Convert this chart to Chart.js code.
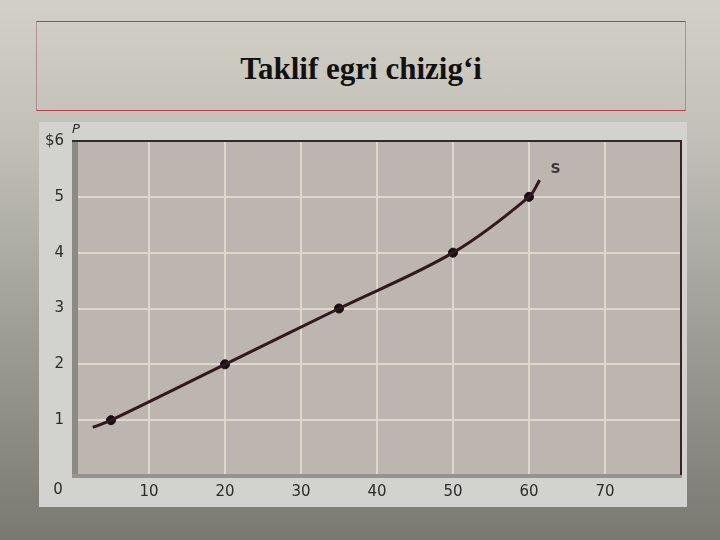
<!DOCTYPE html>
<html>
<head>
<meta charset="utf-8">
<script src="https://cdn.jsdelivr.net/npm/chart.js@4"></script>
<style>
  html, body { margin:0; padding:0; }
  body { width:720px; height:540px; overflow:hidden; position:relative;
    background: linear-gradient(to bottom, #d3d1c7 0%, #c3c1b7 25%, #a09f95 60%, #7a7970 100%); }
  #titlebox { position:absolute; left:36px; top:21px; width:648px; height:88px;
    border-top:1px solid #b8404e; border-bottom:1px solid #b8404e;
    border-left:1px solid rgba(140,90,90,0.5); border-right:1px solid rgba(140,90,90,0.5);
    display:flex; align-items:center; justify-content:center; }
  #titlebox span { font-family:"Liberation Serif", "Times New Roman", serif; font-weight:bold;
    font-size:31px; color:#111; margin-top:6px; }
  #panel { position:absolute; left:39px; top:122px; width:648px; height:385px; background:#d2d2ce; }
  #c { position:absolute; left:0; top:0; }
</style>
</head>
<body>
<div id="titlebox"><span>Taklif egri chizig‘i</span></div>
<div id="panel"></div>
<canvas id="c" width="720" height="540"></canvas>
<script>
// Data
const quantity = [5, 20, 35, 50, 60];          // Q at marked points
const price    = [1, 2, 3, 4, 5];              // P at marked points
const curveStart = {x: 2.6, y: 0.87};          // curve begins before first dot
const curveEnd   = {x: 61.4, y: 5.3};          // curve ends after last dot
const xTicks = [10, 20, 30, 40, 50, 60, 70];
const yTickLabels = {1:'1', 2:'2', 3:'3', 4:'4', 5:'5', 6:'$6'};
const xAxisMin = 0, xAxisMax = 80, yAxisMin = 0, yAxisMax = 6;

const points = quantity.map((q, i) => ({x: q, y: price[i]}));
const curve = [curveStart, ...points, curveEnd];

const tickFont = {family: '"DejaVu Sans", Verdana, sans-serif', size: 15};

const decor = {
  id: 'decor',
  beforeDraw(chart) {
    const {ctx, chartArea: a} = chart;
    ctx.save();
    ctx.fillStyle = '#bdb6b0';
    ctx.fillRect(a.left, a.top, a.right - a.left, a.bottom - a.top);
    ctx.restore();
  },
  afterDraw(chart) {
    const {ctx, chartArea: a, scales} = chart;
    const xs = scales.x, ys = scales.y;
    ctx.save();
    ctx.fillStyle = '#8b8a84';
    ctx.fillRect(a.left - 1, a.top, 6, a.bottom - a.top + 2);
    ctx.fillStyle = '#94938d';
    ctx.fillRect(a.left - 1, a.bottom - 2, a.right - a.left + 2, 4);
    ctx.fillStyle = '#2b2b2b';
    ctx.fillRect(a.left - 1, a.top - 1, a.right - a.left + 2, 2);
    ctx.fillStyle = '#3a2224';
    ctx.fillRect(a.right - 1, a.top - 1, 2, a.bottom - a.top);
    ctx.fillStyle = '#2b2b2b';
    ctx.font = '15px "DejaVu Sans", Verdana, sans-serif';
    ctx.textAlign = 'center';
    ctx.textBaseline = 'middle';
    ctx.fillText('0', xs.getPixelForValue(0) - 15, a.bottom + 14);
    ctx.font = 'italic 13px "DejaVu Sans", Verdana, sans-serif';
    ctx.fillText('P', xs.getPixelForValue(0) + 3, a.top - 11);
    ctx.font = 'bold 14px "DejaVu Sans", Verdana, sans-serif';
    ctx.fillStyle = '#3a3a3a';
    ctx.fillText('S', xs.getPixelForValue(63.5), ys.getPixelForValue(5.5));
    ctx.restore();
  }
};

new Chart(document.getElementById('c'), {
  type: 'line',
  data: {
    datasets: [
      { data: curve, borderColor: '#33191d', borderWidth: 3, tension: 0.35,
        pointRadius: 0, fill: false },
      { data: points, showLine: false, pointRadius: 4.5, pointBackgroundColor: '#111',
        pointBorderColor: '#111', borderColor: '#111' }
    ]
  },
  options: {
    responsive: false,
    animation: false,
    devicePixelRatio: 1,
    layout: { padding: {left: 0, right: 39, top: 141, bottom: 34} },
    plugins: { legend: {display: false}, tooltip: {enabled: false}, title: {display: false} },
    scales: {
      x: {
        type: 'linear', min: xAxisMin, max: xAxisMax,
        afterFit(s) { s.height = 30; },
        afterBuildTicks(s) { s.ticks = [xAxisMin, ...xTicks, xAxisMax].map(v => ({value: v})); },
        border: {display: false},
        grid: { drawTicks: false, lineWidth: 2,
          color: c => (c.tick && xTicks.includes(c.tick.value)) ? '#dcd9cc' : 'rgba(0,0,0,0)' },
        ticks: { padding: 7, color: '#2b2b2b', font: tickFont, maxRotation: 0, autoSkip: false,
          callback: v => xTicks.includes(v) ? String(v) : '' }
      },
      y: {
        type: 'linear', min: yAxisMin, max: yAxisMax,
        afterFit(s) { s.width = 73; },
        border: {display: false},
        grid: { drawTicks: false, lineWidth: 2,
          color: c => (c.tick && c.tick.value > yAxisMin && c.tick.value < yAxisMax) ? '#dcd9cc' : 'rgba(0,0,0,0)' },
        ticks: { stepSize: 1, padding: 9, color: '#2b2b2b', font: tickFont,
          callback: v => yTickLabels[v] || '' }
      }
    }
  },
  plugins: [decor]
});
</script>
</body>
</html>
